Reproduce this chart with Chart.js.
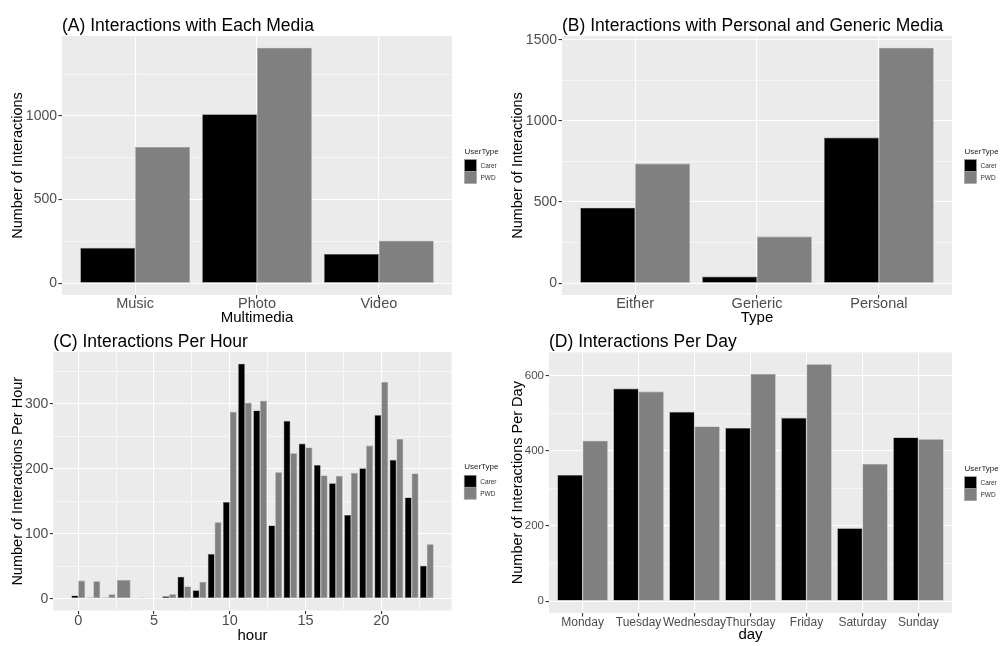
<!DOCTYPE html>
<html>
<head>
<meta charset="utf-8">
<script src="https://cdn.jsdelivr.net/npm/chart.js@4.4.0/dist/chart.umd.min.js"></script>
<style>
	html, body { margin: 0; padding: 0; background: #ffffff; }
	#wrap { position: relative; width: 1005px; height: 646px; overflow: hidden; }
	canvas { position: absolute; }
</style>
</head>
<body>
<div id="wrap">
	<canvas id="chartA" width="500" height="330" style="left:0px;top:0px"></canvas>
	<canvas id="chartB" width="505" height="330" style="left:500px;top:0px"></canvas>
	<canvas id="chartC" width="500" height="324" style="left:0px;top:322px"></canvas>
	<canvas id="chartD" width="505" height="324" style="left:500px;top:322px"></canvas>
</div>
<script>
	// ===== DATA =====
	const mediaLabels = ['Music', 'Photo', 'Video'];
	const mediaCarer = [212, 1010, 175];
	const mediaPwd = [815, 1408, 254];
	const mediaMajor = [0, 500, 1000];
	const mediaMinor = [250, 750, 1250];

	const typeLabels = ['Either', 'Generic', 'Personal'];
	const typeCarer = [465, 41, 897];
	const typePwd = [737, 287, 1450];
	const typeMajor = [0, 500, 1000, 1500];
	const typeMinor = [250, 750, 1250];

	const hours = [0, 1, 2, 3, 4, 5, 6, 7, 8, 9, 10, 11, 12, 13, 14, 15, 16, 17, 18, 19, 20, 21, 22, 23];
	const hourCarer = [5, 2, 2, null, 1, null, 4, 34, 13, 69, 149, 362, 290, 113, 274, 239, 206, 178, 129, 201, 283, 214, 156, 51];
	const hourPwd = [28, 27, 7, 29, 2, 1, 7, 19, 26, 118, 288, 302, 305, 195, 224, 233, 190, 189, 194, 236, 334, 246, 193, 84];
	const hourTicks = [0, 5, 10, 15, 20];
	const hourMinorTicks = [2.5, 7.5, 12.5, 17.5, 22.5];
	const hourMajor = [0, 100, 200, 300];
	const hourMinor = [50, 150, 250, 350];

	const dayLabels = ['Monday', 'Tuesday', 'Wednesday', 'Thursday', 'Friday', 'Saturday', 'Sunday'];
	const dayCarer = [336, 566, 504, 461, 488, 194, 436];
	const dayPwd = [427, 558, 465, 605, 631, 365, 431];
	const dayMajor = [0, 200, 400, 600];
	const dayMinor = [100, 300, 500];

	const userTypes = ['Carer', 'PWD'];

	// ===== HELPERS =====
	const FONT = '"Liberation Sans", Arial, Helvetica, sans-serif';
	Chart.defaults.font.family = FONT;

	function isIn(list, ctx) {
		return !!(ctx && ctx.tick && list.includes(ctx.tick.value));
	}

	function gridFor(majors) {
		return {
			offset: false,
			color: '#ffffff',
			lineWidth: c => isIn(majors, c) ? 1.1 : 0.55,
			drawTicks: true,
			tickLength: 3.5,
			tickColor: c => isIn(majors, c) ? '#333333' : 'rgba(0,0,0,0)',
			tickWidth: c => isIn(majors, c) ? 1.1 : 0.55
		};
	}

	// ggplot style: panel background, title and legend
	const ggPanel = {
		id: 'ggPanel',
		beforeDraw(chart) {
			const { ctx, chartArea: a } = chart;
			ctx.save();
			ctx.fillStyle = '#EBEBEB';
			ctx.fillRect(a.left, a.top, a.right - a.left, a.bottom - a.top);
			ctx.restore();
		},
		afterDraw(chart, args, o) {
			const { ctx, chartArea: a } = chart;
			ctx.save();
			ctx.fillStyle = '#000000';
			ctx.font = '17.5px ' + FONT;
			ctx.textAlign = 'left';
			ctx.textBaseline = 'alphabetic';
			ctx.fillText(o.title, a.left, a.top - 5.3);

			const mid = (a.top + a.bottom) / 2;
			const lx = a.right + 12.5;
			ctx.font = '8px ' + FONT;
			ctx.textBaseline = 'middle';
			ctx.fillStyle = '#1a1a1a';
			ctx.fillText('UserType', lx, mid - 14);
			chart.data.datasets.forEach((ds, i) => {
				const top = mid - 6 + i * 12;
				ctx.fillStyle = ds.backgroundColor;
				ctx.fillRect(lx, top, 12, 12);
				ctx.strokeStyle = '#a0a0a0';
				ctx.lineWidth = 0.6;
				ctx.strokeRect(lx, top, 12, 12);
				ctx.fillStyle = '#333333';
				ctx.font = '6.5px ' + FONT;
				ctx.fillText(ds.label, lx + 16, top + 6.5);
			});
			ctx.restore();
		}
	};

	function makePanel(p) {
		const allVals = p.carer.concat(p.pwd).filter(v => v !== null);
		const top = Math.max(...allVals);
		const yMin = -0.05 * top;
		const yMax = 1.05 * top;

		const pts = vals => p.xs.map((x, i) => ({ x: x, y: vals[i] }));

		const barStyle = {
			categoryPercentage: 0.9,
			barPercentage: 1.0,
			borderWidth: 0.6,
			borderSkipped: false,
			skipNull: true
		};

		return new Chart(document.getElementById(p.id), {
			type: 'bar',
			data: {
				datasets: [
					Object.assign({ label: userTypes[0], data: pts(p.carer), backgroundColor: '#000000', borderColor: '#6e6e6e' }, barStyle),
					Object.assign({ label: userTypes[1], data: pts(p.pwd), backgroundColor: '#808080', borderColor: '#9a9a9a' }, barStyle)
				]
			},
			options: {
				responsive: false,
				maintainAspectRatio: false,
				devicePixelRatio: 1,
				animation: false,
				events: [],
				layout: { padding: { left: 0, top: p.top, right: p.right, bottom: 0 } },
				plugins: {
					legend: { display: false },
					tooltip: { enabled: false },
					title: { display: false },
					ggPanel: { title: p.title }
				},
				scales: {
					x: {
						type: 'linear',
						min: p.xMin,
						max: p.xMax,
						offset: false,
						afterBuildTicks: s => { s.ticks = p.xMajor.concat(p.xMinor).map(v => ({ value: v })); },
						afterFit: s => { s.height = p.xHeight; },
						ticks: {
							autoSkip: false,
							maxRotation: 0,
							minRotation: 0,
							padding: p.xTickPad,
							color: '#4D4D4D',
							font: { size: p.xTickSize, lineHeight: 1 },
							callback: v => p.xMajor.includes(v) ? p.xLabel(v) : ''
						},
						grid: gridFor(p.xMajor),
						border: { display: false },
						title: {
							display: true,
							text: p.xTitle,
							color: '#000000',
							font: { size: 15, lineHeight: 1.2 },
							padding: { top: 0, bottom: p.xTitlePad }
						}
					},
					y: {
						type: 'linear',
						min: yMin,
						max: yMax,
						afterBuildTicks: s => { s.ticks = p.yMajor.concat(p.yMinor).map(v => ({ value: v })); },
						afterFit: s => { s.width = p.yWidth; },
						ticks: {
							autoSkip: false,
							padding: 1.5,
							color: '#4D4D4D',
							font: { size: p.yTickSize, lineHeight: 1 },
							callback: v => p.yMajor.includes(v) ? String(v) : ''
						},
						grid: gridFor(p.yMajor),
						border: { display: false },
						title: {
							display: true,
							text: p.yTitle,
							color: '#000000',
							font: { size: 14.5, lineHeight: 1.2 },
							padding: { top: 8.8, bottom: 0 }
						}
					}
				}
			},
			plugins: [ggPanel]
		});
	}

	const pos = labels => labels.map((l, i) => i + 1);

	// ===== PANELS =====
	makePanel({
		id: 'chartA', title: '(A) Interactions with Each Media',
		xs: pos(mediaLabels), carer: mediaCarer, pwd: mediaPwd,
		xMin: 0.4, xMax: mediaLabels.length + 0.6, xMajor: pos(mediaLabels), xMinor: [],
		xLabel: v => mediaLabels[v - 1],
		yMajor: mediaMajor, yMinor: mediaMinor,
		xTitle: 'Multimedia', yTitle: 'Number of Interactions',
		top: 36, right: 48, yWidth: 62, xHeight: 35,
		xTickSize: 14.5, yTickSize: 14, xTickPad: -1.5, xTitlePad: 3
	});

	makePanel({
		id: 'chartB', title: '(B) Interactions with Personal and Generic Media',
		xs: pos(typeLabels), carer: typeCarer, pwd: typePwd,
		xMin: 0.4, xMax: typeLabels.length + 0.6, xMajor: pos(typeLabels), xMinor: [],
		xLabel: v => typeLabels[v - 1],
		yMajor: typeMajor, yMinor: typeMinor,
		xTitle: 'Type', yTitle: 'Number of Interactions',
		top: 36, right: 53, yWidth: 62, xHeight: 35,
		xTickSize: 14.5, yTickSize: 14, xTickPad: -1.5, xTitlePad: 3
	});

	const hLo = hours[0] - 0.45;
	const hHi = hours[hours.length - 1] + 0.45;
	makePanel({
		id: 'chartC', title: '(C) Interactions Per Hour',
		xs: hours, carer: hourCarer, pwd: hourPwd,
		xMin: hLo - 0.05 * (hHi - hLo), xMax: hHi + 0.05 * (hHi - hLo),
		xMajor: hourTicks, xMinor: hourMinorTicks,
		xLabel: v => String(v),
		yMajor: hourMajor, yMinor: hourMinor,
		xTitle: 'hour', yTitle: 'Number of Interactions Per Hour',
		top: 30, right: 48.3, yWidth: 53.3, xHeight: 35.5,
		xTickSize: 14.5, yTickSize: 14, xTickPad: 0, xTitlePad: 1
	});

	makePanel({
		id: 'chartD', title: '(D) Interactions Per Day',
		xs: pos(dayLabels), carer: dayCarer, pwd: dayPwd,
		xMin: 0.4, xMax: dayLabels.length + 0.6, xMajor: pos(dayLabels), xMinor: [],
		xLabel: v => dayLabels[v - 1],
		yMajor: dayMajor, yMinor: dayMinor,
		xTitle: 'day', yTitle: 'Number of Interactions Per Day',
		top: 30.3, right: 53, yWidth: 49, xHeight: 33,
		xTickSize: 12, yTickSize: 11.5, xTickPad: 0, xTitlePad: 2
	});
</script>
</body>
</html>
